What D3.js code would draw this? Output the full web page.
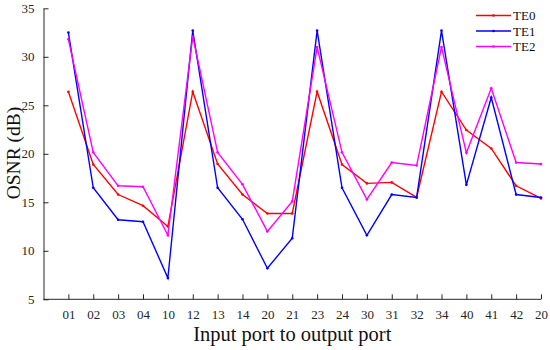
<!DOCTYPE html>
<html><head><meta charset="utf-8">
<script src="https://cdn.jsdelivr.net/npm/d3@7"></script>
<style>body{margin:0;background:#fff;} text{font-family:"Liberation Serif","Times New Roman",serif;}</style>
</head><body><svg id="c" width="550" height="350"></svg>
<script>
const categories = ["01","02","03","04","10","12","13","14","20","21","23","24","30","31","32","34","40","41","42","20"];
const te0 = [26.4,18.9,15.8,14.65,12.5,26.4,18.95,15.8,13.85,13.85,26.4,18.9,16.95,17.05,15.5,26.4,22.45,20.55,16.7,15.4];
const te1 = [32.5,16.5,13.2,13.0,7.2,32.7,16.5,13.25,8.2,11.3,32.7,16.5,11.6,15.8,15.5,32.7,16.8,25.8,15.8,15.5];
const te2 = [31.8,20.15,16.7,16.6,11.6,32.1,20.15,16.85,12.0,15.1,31.0,20.15,15.3,19.1,18.8,31.0,20.1,26.75,19.1,18.95];
const seriesNames = ["TE0","TE1","TE2"];
const seriesColors = ["#ff0000","#0000ff","#ff00ff"];
const yTicks = [5,10,15,20,25,30,35];

const svg = d3.select("#c");
const L = 43.5, R = 541, T = 8.3, B = 299.3;
const x = d3.scaleLinear().domain([0, categories.length]).range([L, R]);
const y = d3.scaleLinear().domain([5, 35]).range([B, T]);
const axisCol = "#262626";

// x axis
const xAxis = d3.axisBottom(x).tickValues(d3.range(1, categories.length + 1))
  .tickFormat(i => categories[i - 1]).tickSizeInner(-5).tickSizeOuter(0).tickPadding(10);
const gx = svg.append("g").attr("transform", `translate(0,${B})`).call(xAxis);
gx.attr("font-family", null);
gx.select(".domain").attr("stroke", axisCol).attr("d", `M${L},0H${R}`);
gx.selectAll(".tick line").attr("stroke", axisCol);
gx.selectAll("text").attr("fill", axisCol).style("font-size", "13px").style("font-family", "Liberation Serif");

// y axis
const yAxis = d3.axisLeft(y).tickValues(yTicks).tickSizeInner(-5).tickSizeOuter(0).tickPadding(9);
const gy = svg.append("g").attr("transform", `translate(${L},0)`).call(yAxis);
gy.attr("font-family", null);
gy.select(".domain").attr("stroke", axisCol);
gy.selectAll(".tick line").attr("stroke", axisCol);
gy.selectAll("text").attr("fill", axisCol).style("font-size", "13px").style("font-family", "Liberation Serif");

// titles
svg.append("text").attr("x", (L + R) / 2).attr("y", 341).attr("text-anchor", "middle")
  .style("font-size", "20.5px").attr("fill", "#111").text("Input port to output port");
svg.append("text").attr("transform", `translate(19.5,${153}) rotate(-90)`).attr("text-anchor", "middle")
  .style("font-size", "19.5px").attr("fill", "#111").text("OSNR (dB)");

const data = [te0, te1, te2];
const line = d3.line().x((d, i) => x(i + 1)).y(d => y(d));
data.forEach((vals, k) => {
  svg.append("path").datum(vals).attr("d", line).attr("fill", "none")
    .attr("stroke", seriesColors[k]).attr("stroke-width", 1.4);
  svg.append("g").selectAll("circle").data(vals).join("circle")
    .attr("cx", (d, i) => x(i + 1)).attr("cy", d => y(d)).attr("r", 1.3).attr("fill", seriesColors[k]);
});

// legend
const lg = svg.append("g");
seriesNames.forEach((n, k) => {
  const yy = 15.5 + k * 15.5;
  lg.append("line").attr("x1", 476).attr("x2", 511).attr("y1", yy).attr("y2", yy)
    .attr("stroke", seriesColors[k]).attr("stroke-width", 1.4);
  lg.append("circle").attr("cx", 493.5).attr("cy", yy).attr("r", 1.3).attr("fill", seriesColors[k]);
  lg.append("text").attr("x", 513).attr("y", yy + 4.5).style("font-size", "13px").attr("fill", "#111").text(n);
});
</script></body></html>
